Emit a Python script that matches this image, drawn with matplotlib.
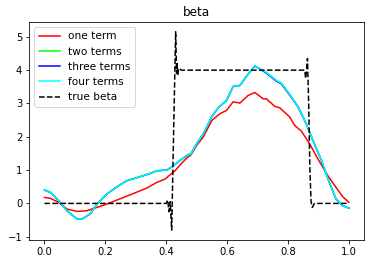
import matplotlib
matplotlib.use("Agg")
import matplotlib.pyplot as plt

plt.rcParams['font.family'] = ['DejaVu Sans']

# estimated curves (x, y)
x_one = [0.0, 0.02, 0.047, 0.074, 0.107, 0.14, 0.172, 0.205, 0.238, 0.293, 0.336, 0.369,
         0.396, 0.429, 0.45, 0.473, 0.48, 0.5, 0.522, 0.55, 0.576, 0.598, 0.62, 0.642,
         0.669, 0.691, 0.70, 0.718, 0.729, 0.757, 0.773, 0.806, 0.822, 0.844, 0.871,
         0.898, 0.931, 0.964, 0.98, 1.0]
y_one = [0.18, 0.15, 0.03, -0.17, -0.24, -0.22, -0.12, -0.02, 0.10, 0.30, 0.46, 0.63,
         0.73, 0.98, 1.2, 1.41, 1.44, 1.74, 2.0, 2.49, 2.69, 2.79, 3.05, 3.01,
         3.24, 3.33, 3.27, 3.14, 3.14, 2.91, 2.87, 2.59, 2.34, 2.17, 1.79,
         1.34, 0.83, 0.40, 0.20, 0.03]

x_four = [0.0, 0.02, 0.047, 0.074, 0.107, 0.123, 0.15, 0.172, 0.205, 0.232, 0.27, 0.314,
          0.347, 0.369, 0.402, 0.424, 0.445, 0.473, 0.48, 0.5, 0.522, 0.55, 0.571, 0.598,
          0.62, 0.642, 0.669, 0.691, 0.707, 0.724, 0.74, 0.762, 0.778, 0.806, 0.833,
          0.86, 0.882, 0.91, 0.937, 0.958, 0.98, 1.0]
y_four = [0.40, 0.33, 0.08, -0.22, -0.47, -0.47, -0.32, -0.02, 0.28, 0.46, 0.68, 0.80,
          0.90, 0.98, 1.0, 1.13, 1.29, 1.47, 1.47, 1.79, 2.09, 2.61, 2.87, 3.09,
          3.51, 3.54, 3.88, 4.12, 4.05, 3.96, 3.85, 3.69, 3.61, 3.27, 2.91,
          2.39, 1.89, 1.29, 0.60, 0.13, -0.07, -0.14]
y_two = y_four
y_three = [0.40, 0.33, 0.08, -0.22, -0.47, -0.47, -0.32, -0.02, 0.28, 0.46, 0.68, 0.80,
           0.90, 0.98, 1.0, 1.13, 1.29, 1.47, 1.47, 1.79, 2.09, 2.61, 2.87, 3.09,
           3.51, 3.54, 3.88, 4.12, 4.04, 3.94, 3.83, 3.67, 3.59, 3.25, 2.90,
           2.39, 1.89, 1.29, 0.60, 0.13, -0.07, -0.14]

x_true = [0.0, 0.40, 0.405, 0.409, 0.413, 0.418, 0.424, 0.431, 0.434, 0.436, 0.438,
          0.441, 0.45, 0.855, 0.858, 0.861, 0.864, 0.868, 0.872, 0.876, 0.880, 0.887, 1.0]
y_true = [0.0, 0.0, 0.1, -0.25, 0.05, -0.8, 2.0, 5.15, 3.9, 4.2, 3.85,
          4.05, 4.0, 4.0, 3.75, 4.0, 4.35, 3.0, 1.0, 0.05, -0.12, 0.0, 0.0]

fig, ax = plt.subplots(figsize=(370 / 72, 264 / 72), dpi=72)
fig.subplots_adjust(left=0.079, right=0.984, bottom=0.091, top=0.917)

ax.plot(x_one, y_one, color='red', lw=1.5, label='one term')
ax.plot(x_four, y_two, color='lime', lw=1.5, label='two terms')
ax.plot(x_four, y_three, color='blue', lw=1.5, label='three terms')
ax.plot(x_four, y_four, color='cyan', lw=1.5, label='four terms')
ax.plot(x_true, y_true, 'k--', lw=1.5, label='true beta')

ax.set_title('beta', fontsize=12)
ax.tick_params(labelsize=10)
ax.legend(loc='upper left', fontsize=10.5)

fig.savefig('out.png', dpi=72)
